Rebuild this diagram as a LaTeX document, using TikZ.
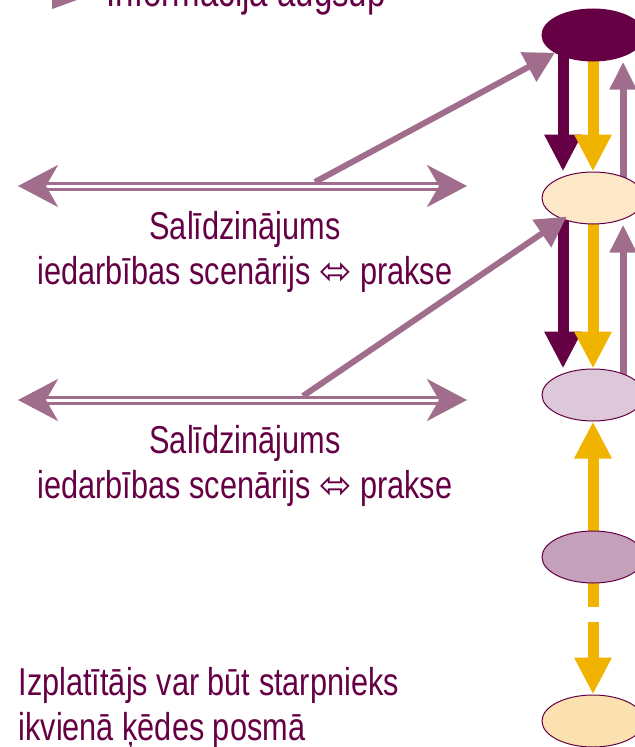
\documentclass[tikz,border=0pt]{standalone}
\usepackage{fontspec}
\setmainfont{Liberation Sans}[FakeStretch=0.79]
\newfontfamily\symfont{DejaVu Sans}
\usetikzlibrary{positioning, shapes, arrows.meta, backgrounds}
\definecolor{plum}{RGB}{102,0,68}
\definecolor{gold}{RGB}{240,180,0}
\definecolor{mauve}{RGB}{160,110,140}
\definecolor{cream}{RGB}{253,232,200}
\definecolor{lilac}{RGB}{220,200,216}
\definecolor{heather}{RGB}{196,160,186}
\definecolor{peach}{RGB}{251,225,176}

\begin{document}
\begin{tikzpicture}[x=1bp, y=-1bp,
  level/.style={ellipse, draw=plum, line width=1bp, minimum width=102bp,
    minimum height=52bp, inner sep=0pt},
  txt/.style={text=plum, font=\fontsize{39}{45}\selectfont},
  down/.style={line width=11bp, -{Triangle[length=37bp, width=35bp]}},
  up/.style={mauve, line width=7bp, -{Triangle[length=28bp, width=25bp]}},
  link/.style={mauve, line width=6bp, -{Triangle[length=30bp, width=32bp]}},
  compare/.style={mauve, line width=3bp, double=white, double distance=3bp,
    {Stealth[length=40bp, width=42bp, inset=12bp]}-{Stealth[length=40bp, width=42bp, inset=12bp]}}]
  \clip (0,0) rectangle (635,747);

  % chain of levels
  \node[level, fill=plum] (e1) at (593,35) {};
  \node[level, fill=cream] (e2) at (593,198) {};
  \node[level, fill=lilac] (e3) at (593,395) {};
  \node[level, fill=heather] (e4) at (593,557) {};
  \node[level, fill=peach] (e5) at (593,721) {};

  % legend
  \coordinate (g0) at (0,-7);
  \coordinate (g1) at (97,-7);
  \node[txt, font=\fontsize{42}{48}\selectfont, anchor=base west] (legend) at (103,7)
    {Informācija augšup};

  % comparisons
  \coordinate (l1) at (18,186);
  \coordinate (r1) at (467,186);
  \coordinate (s1) at (315,182);
  \node[txt, align=center] (cmp1) at (245,252)
    {Salīdzinājums\\iedarbības scenārijs {\symfont ⬄} prakse};
  \coordinate (l2) at (18,400);
  \coordinate (r2) at (467,400);
  \coordinate (s2) at (303,396);
  \node[txt, align=center] (cmp2) at (245,466)
    {Salīdzinājums\\iedarbības scenārijs {\symfont ⬄} prakse};

  \node[txt, align=left, anchor=west] (note) at (15,708)
    {Izplatītājs var būt starpnieks\\ikvienā ķēdes posmā};

  \begin{scope}[on background layer]
  \draw[down, plum] ([xshift=-30bp]e1.center) -- ([xshift=-30bp]e2.north);
  \draw[down, gold] (e1.center) -- (e2.north);
  \draw[up] ([xshift=30bp]e2.center) -- ([xshift=30bp]e1.south);
  \draw[down, plum] ([xshift=-30bp]e2.center) -- ([xshift=-30bp]e3.north);
  \draw[down, gold] (e2.center) -- (e3.north);
  \draw[up] ([xshift=30bp]e3.center) -- ([xshift=30bp]e2.south);
  \draw[down, gold] (e4.center) -- (e3.south);
  \draw[down, gold, dash pattern=on 50bp off 15bp on 300bp] (e4.center) -- (e5.north);
  \end{scope}

  \draw[up, -{Triangle[length=45bp, width=30bp]}] (g0) -- (g1);
  \draw[compare] (l1) -- (r1);
  \draw[compare] (l2) -- (r2);
  \draw[link] (s1) -- (e1.205);
  \draw[link] (s2) -- ([xshift=10bp]e2.south west);
\end{tikzpicture}
\end{document}
